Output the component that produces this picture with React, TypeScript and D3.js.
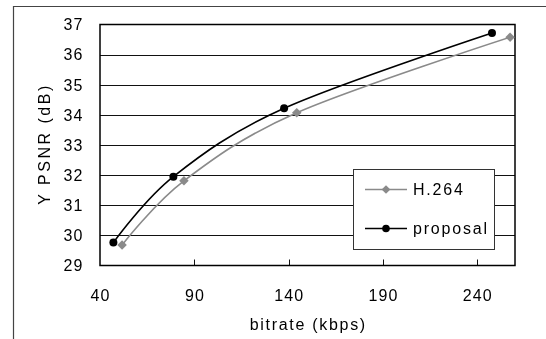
import * as d3 from "d3";
import { useEffect, useRef } from "react";

// bitrate (kbps) / Y PSNR (dB)
const h264Rate = [51.7, 84.5, 144.3, 257.4];
const h264Psnr = [29.68, 31.81, 34.07, 36.58];
const propRate = [47.1, 78.9, 137.6, 247.8];
const propPsnr = [29.76, 31.95, 34.22, 36.72];

const xTicks = [40, 90, 140, 190, 240];
const yTicks = [29, 30, 31, 32, 33, 34, 35, 36, 37];

const App = () => {
    const svgRef = useRef<SVGSVGElement | null>(null);

    useEffect(() => {
        const svg = d3.select(svgRef.current);
        svg.selectAll("*").remove();

        const width = 546;
        const height = 339;
        const left = 100, right = 515, top = 24.5, bottom = 265.5;
        const font = "'Liberation Sans', Arial, sans-serif";

        const x = d3.scaleLinear().domain([40, 260]).range([left, right]);
        const y = d3.scaleLinear().domain([29, 37]).range([bottom, top]);

        svg.attr("width", width).attr("height", height);

        // outer frame
        svg.append("path")
            .attr("d", `M13.5,${height} V6.5 H${width}`)
            .attr("fill", "none")
            .attr("stroke", "#444")
            .attr("stroke-width", 1.2);

        // gridlines
        svg.append("g")
            .selectAll("line")
            .data(yTicks.slice(1, -1))
            .join("line")
            .attr("x1", left)
            .attr("x2", right)
            .attr("y1", (d) => Math.round(y(d)) + 0.5)
            .attr("y2", (d) => Math.round(y(d)) + 0.5)
            .attr("stroke", "#111")
            .attr("stroke-width", 1);

        // inward ticks on x axis
        svg.append("g")
            .selectAll("line")
            .data(xTicks.slice(1))
            .join("line")
            .attr("x1", (d) => Math.round(x(d)) + 0.5)
            .attr("x2", (d) => Math.round(x(d)) + 0.5)
            .attr("y1", bottom)
            .attr("y2", bottom - 6)
            .attr("stroke", "#111");

        // plot border
        svg.append("rect")
            .attr("x", left)
            .attr("y", top)
            .attr("width", right - left)
            .attr("height", bottom - top)
            .attr("fill", "none")
            .attr("stroke", "#000")
            .attr("stroke-width", 1.5);

        // tick labels
        svg.append("g")
            .selectAll("text")
            .data(yTicks)
            .join("text")
            .attr("x", 83.5)
            .attr("y", (d) => y(d))
            .attr("dy", "0.36em")
            .attr("text-anchor", "end")
            .attr("font-family", font)
            .attr("font-size", 16)
            .attr("letter-spacing", 1.1)
            .text((d) => d);

        svg.append("g")
            .selectAll("text")
            .data(xTicks)
            .join("text")
            .attr("x", (d) => x(d) + 0.6)
            .attr("y", 301)
            .attr("text-anchor", "middle")
            .attr("font-family", font)
            .attr("font-size", 16)
            .attr("letter-spacing", 1.1)
            .text((d) => d);

        svg.append("text")
            .attr("x", (left + right) / 2 + 0.8)
            .attr("y", 330)
            .attr("text-anchor", "middle")
            .attr("font-family", font)
            .attr("font-size", 16)
            .attr("letter-spacing", 1.7)
            .text("bitrate (kbps)");

        svg.append("text")
            .attr("transform", `translate(50, ${(top + bottom) / 2 - 1}) rotate(-90)`)
            .attr("text-anchor", "middle")
            .attr("font-family", font)
            .attr("font-size", 16)
            .attr("letter-spacing", 2.5)
            .text("Y PSNR (dB)");

        const line = d3.line<[number, number]>()
            .x((d) => x(d[0]))
            .y((d) => y(d[1]))
            .curve(d3.curveCatmullRom.alpha(0));

        const h264 = h264Rate.map((r, i) => [r, h264Psnr[i]] as [number, number]);
        const prop = propRate.map((r, i) => [r, propPsnr[i]] as [number, number]);

        const gray = "#8a8a8a";
        const diamond = d3.symbol().type(d3.symbolSquare).size(45);
        const diamondSmall = d3.symbol().type(d3.symbolSquare).size(38);

        svg.append("path")
            .attr("d", line(h264))
            .attr("fill", "none")
            .attr("stroke", gray)
            .attr("stroke-width", 1.6);
        svg.append("g")
            .selectAll("path")
            .data(h264)
            .join("path")
            .attr("d", diamond)
            .attr("transform", (d) => `translate(${x(d[0])}, ${y(d[1])}) rotate(45)`)
            .attr("fill", gray);

        svg.append("path")
            .attr("d", line(prop))
            .attr("fill", "none")
            .attr("stroke", "#000")
            .attr("stroke-width", 1.6);
        svg.append("g")
            .selectAll("circle")
            .data(prop)
            .join("circle")
            .attr("cx", (d) => x(d[0]))
            .attr("cy", (d) => y(d[1]))
            .attr("r", 4)
            .attr("fill", "#000");

        // legend
        const legend = svg.append("g");
        legend.append("rect")
            .attr("x", 353.5)
            .attr("y", 169.5)
            .attr("width", 141)
            .attr("height", 80)
            .attr("fill", "#fff")
            .attr("stroke", "#333")
            .attr("stroke-width", 1);

        const entries = [
            { label: "H.264", color: gray, cy: 189.5, kind: "diamond" },
            { label: "proposal", color: "#000", cy: 228.5, kind: "circle" },
        ];
        entries.forEach((e) => {
            legend.append("line")
                .attr("x1", 365)
                .attr("x2", 407)
                .attr("y1", e.cy)
                .attr("y2", e.cy)
                .attr("stroke", e.color)
                .attr("stroke-width", 1.5);
            if (e.kind === "diamond") {
                legend.append("path")
                    .attr("d", diamondSmall)
                    .attr("transform", `translate(386, ${e.cy}) rotate(45)`)
                    .attr("fill", e.color);
            } else {
                legend.append("circle")
                    .attr("cx", 386)
                    .attr("cy", e.cy)
                    .attr("r", 3.8)
                    .attr("fill", e.color);
            }
            legend.append("text")
                .attr("x", 413)
                .attr("y", e.cy)
                .attr("dy", "0.36em")
                .attr("font-family", font)
                .attr("font-size", 16)
                .attr("letter-spacing", 1.8)
                .text(e.label);
        });
    }, []);

    return (
        <div style={{ position: "fixed", left: 0, top: 0 }}>
            <svg ref={svgRef} style={{ display: "block" }}></svg>
        </div>
    );
};

export default App;
